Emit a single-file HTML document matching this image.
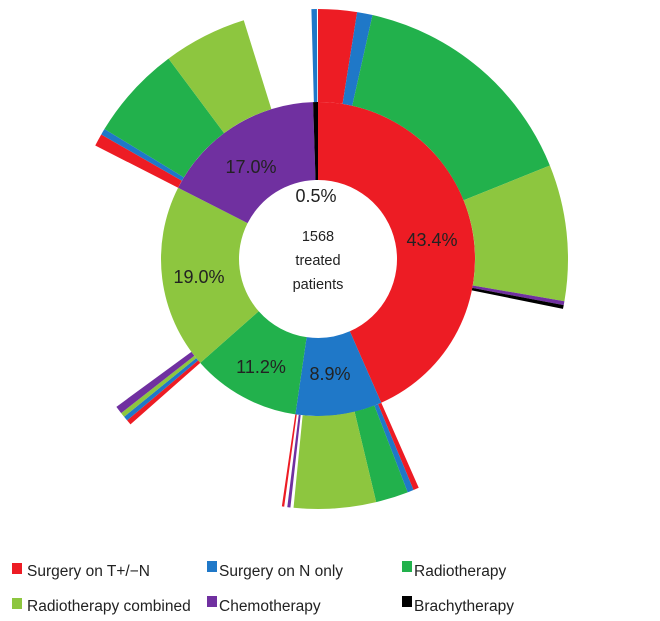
<!DOCTYPE html>
<html><head><meta charset="utf-8"><style>
body{margin:0;background:#fff;width:660px;height:621px;overflow:hidden;font-family:"Liberation Sans",sans-serif}
svg{display:block}
</style></head><body>
<svg id="chart" width="660" height="621">
<g id="rings"></g>
<g id="labels"></g>
<text x="318" y="241" text-anchor="middle" font-size="14.5" fill="#222">1568</text>
<text x="318" y="265" text-anchor="middle" font-size="14.5" fill="#222">treated</text>
<text x="318" y="289" text-anchor="middle" font-size="14.5" fill="#222">patients</text>
<g font-size="15.5" fill="#222">
 <g><rect x="12" y="563" width="10" height="11" fill="#ed1c24"/><text x="27" y="576">Surgery on T+/−N</text></g>
 <g><rect x="207" y="561" width="10" height="11" fill="#1f78c8"/><text x="219" y="576">Surgery on N only</text></g>
 <g><rect x="402" y="561" width="10" height="11" fill="#22b14c"/><text x="414" y="576">Radiotherapy</text></g>
 <g><rect x="12" y="598" width="10" height="11" fill="#8dc63f"/><text x="27" y="611">Radiotherapy combined</text></g>
 <g><rect x="207" y="596" width="10" height="11" fill="#7030a0"/><text x="219" y="611">Chemotherapy</text></g>
 <g><rect x="402" y="596" width="10" height="11" fill="#000"/><text x="414" y="611">Brachytherapy</text></g>
</g>
</svg>
<script>
const categories = ["Surgery on T+/-N","Surgery on N only","Radiotherapy","Radiotherapy combined","Chemotherapy","Brachytherapy"];
const innerValues = [43.4, 8.9, 11.2, 19.0, 17.0, 0.5];
const innerLabels = ["43.4%","8.9%","11.2%","19.0%","17.0%","0.5%"];
// outer ring: parent index, category index (-1 = gap), share of total (%)
const outerParents = [0,0,0,0,0,0, 1,1,1,1,1,1,1,1, 3,3,3,3, 4,4,4,4, 5,5];
const outerCats    = [0,1,2,3,4,5, 0,1,2,3,-1,4,-1,0, 0,1,3,4, 0,1,2,3, -1,1];
const outerValues  = [2.5,1.0,15.4,8.8,0.25,0.25, 0.36,0.4,2.1,5.3,0.2,0.2,0.2,0.15, 0.33,0.3,0.3,0.5, 0.8,0.4,6.1,5.4, 0.08,0.35];

const colors = ["#ed1c24","#1f78c8","#22b14c","#8dc63f","#7030a0","#000000"];
const cx=318, cy=259, r0=79, r1=157, r2=250;
const labelPos = [[432,246],[330,380],[261,373],[199,283],[251,173],[316,202]];
const NS="http://www.w3.org/2000/svg";
function ang(p){return p*3.6*Math.PI/180;}
function pt(r,a){return [cx+r*Math.sin(a), cy-r*Math.cos(a)];}
function arc(ri,ro,a0,a1){
  const l=(a1-a0)>Math.PI?1:0;
  const [x0,y0]=pt(ro,a0),[x1,y1]=pt(ro,a1),[x2,y2]=pt(ri,a1),[x3,y3]=pt(ri,a0);
  return `M${x0},${y0}A${ro},${ro} 0 ${l} 1 ${x1},${y1}L${x2},${y2}A${ri},${ri} 0 ${l} 0 ${x3},${y3}Z`;
}
const g=document.getElementById('rings');
const starts=[];let acc=0;
innerValues.forEach((v,i)=>{
  starts.push(acc);
  const p=document.createElementNS(NS,'path');
  p.setAttribute('d',arc(r0,r1,ang(acc),ang(acc+v)));
  p.setAttribute('fill',colors[i]);
  
  
  g.appendChild(p);
  acc+=v;
});
const cursor=starts.slice();
outerValues.forEach((v,i)=>{
  const par=outerParents[i];
  const s=cursor[par];cursor[par]+=v;
  if(outerCats[i]<0)return;
  const p=document.createElementNS(NS,'path');
  p.setAttribute('d',arc(r1,r2,ang(s),ang(s+v)));
  p.setAttribute('fill',colors[outerCats[i]]);
  
  
  g.appendChild(p);
});
const lg=document.getElementById('labels');
innerLabels.forEach((t,i)=>{
  const e=document.createElementNS(NS,'text');
  e.setAttribute('x',labelPos[i][0]);e.setAttribute('y',labelPos[i][1]);
  e.setAttribute('text-anchor','middle');e.setAttribute('font-size','18');
  e.setAttribute('fill','#222');
  e.textContent=t;
  
  
  lg.appendChild(e);
});
</script>
</body></html>
